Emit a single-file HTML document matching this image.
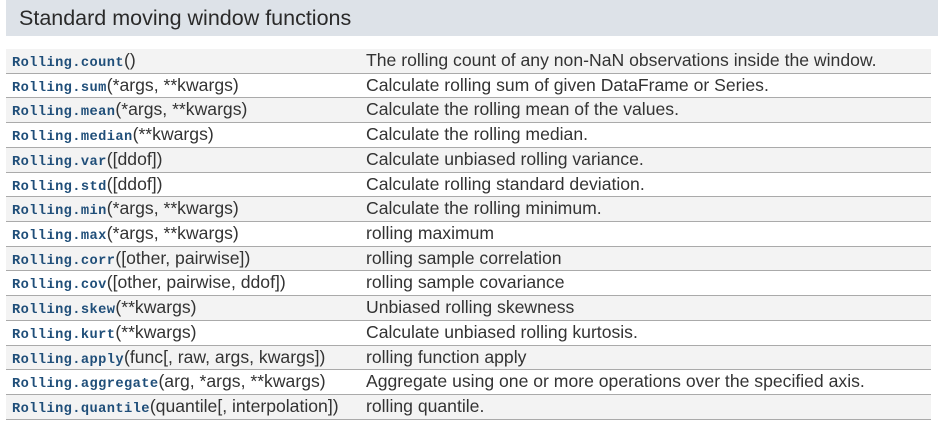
<!DOCTYPE html>
<html><head><meta charset="utf-8"><style>
body{margin:0;width:945px;height:423px;background:#fff;overflow:hidden;font-family:"Liberation Sans",sans-serif;color:#333}
.h{position:absolute;left:6px;top:0;width:932px;height:36px;background:#dde2e8;font-size:21.5px;line-height:36px;padding-left:13px;box-sizing:border-box;color:#2a2a2a}
.t{position:absolute;left:6px;top:49px;width:925px}
.r{height:24.73px;border-bottom:1px solid #aaa;box-sizing:border-box;font-size:17.6px;line-height:23px;white-space:nowrap;position:relative}
.r:nth-child(odd){background:#f3f3f3}
.a{position:absolute;left:6px;top:0}
.b{position:absolute;left:360px;top:0}
code{font-family:"Liberation Mono",monospace;font-weight:bold;font-size:13.7px;letter-spacing:0.4px;color:#1f4e79}
</style></head><body>
<div class="h">Standard moving window functions</div>
<div class="t">
<div class="r"><span class="a"><code>Rolling.count</code>()</span><span class="b">The rolling count of any non-NaN observations inside the window.</span></div>
<div class="r"><span class="a"><code>Rolling.sum</code>(*args, **kwargs)</span><span class="b">Calculate rolling sum of given DataFrame or Series.</span></div>
<div class="r"><span class="a"><code>Rolling.mean</code>(*args, **kwargs)</span><span class="b">Calculate the rolling mean of the values.</span></div>
<div class="r"><span class="a"><code>Rolling.median</code>(**kwargs)</span><span class="b">Calculate the rolling median.</span></div>
<div class="r"><span class="a"><code>Rolling.var</code>([ddof])</span><span class="b">Calculate unbiased rolling variance.</span></div>
<div class="r"><span class="a"><code>Rolling.std</code>([ddof])</span><span class="b">Calculate rolling standard deviation.</span></div>
<div class="r"><span class="a"><code>Rolling.min</code>(*args, **kwargs)</span><span class="b">Calculate the rolling minimum.</span></div>
<div class="r"><span class="a"><code>Rolling.max</code>(*args, **kwargs)</span><span class="b">rolling maximum</span></div>
<div class="r"><span class="a"><code>Rolling.corr</code>([other, pairwise])</span><span class="b">rolling sample correlation</span></div>
<div class="r"><span class="a"><code>Rolling.cov</code>([other, pairwise, ddof])</span><span class="b">rolling sample covariance</span></div>
<div class="r"><span class="a"><code>Rolling.skew</code>(**kwargs)</span><span class="b">Unbiased rolling skewness</span></div>
<div class="r"><span class="a"><code>Rolling.kurt</code>(**kwargs)</span><span class="b">Calculate unbiased rolling kurtosis.</span></div>
<div class="r"><span class="a"><code>Rolling.apply</code>(func[, raw, args, kwargs])</span><span class="b">rolling function apply</span></div>
<div class="r"><span class="a"><code>Rolling.aggregate</code>(arg, *args, **kwargs)</span><span class="b">Aggregate using one or more operations over the specified axis.</span></div>
<div class="r"><span class="a"><code>Rolling.quantile</code>(quantile[, interpolation])</span><span class="b">rolling quantile.</span></div>
</div>
</body></html>
